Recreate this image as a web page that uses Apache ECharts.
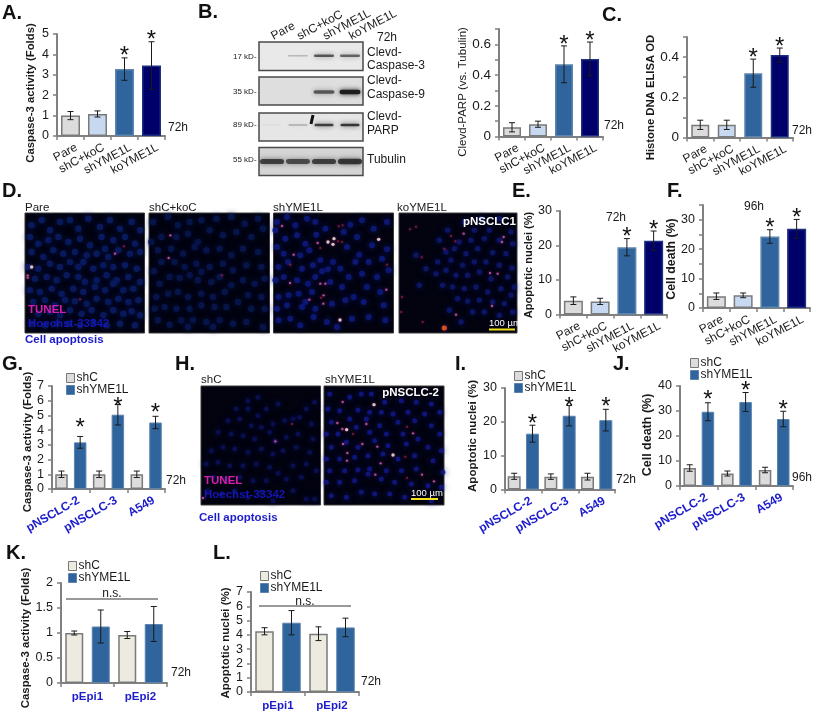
<!DOCTYPE html>
<html><head><meta charset="utf-8">
<style>html,body{margin:0;padding:0;background:#fff}#c{width:814px;height:716px}</style>
<script src="https://cdn.jsdelivr.net/npm/echarts@6/dist/echarts.min.js"></script>
</head><body><div id="c"></div>
<script>
// ---------- categories ----------
const conditions = ['Pare','shC+koC','shYME1L','koYME1L'];
const lines = ['pNSCLC-2','pNSCLC-3','A549'];
const epi = ['pEpi1','pEpi2'];
// ---------- single-series panels: value, error, significance ----------
const aVal=[1.0,1.08,3.28,3.45], aErr=[0.2,0.15,0.55,1.17], aSig=[0,0,1,1];
const parpVal=[0.06,0.08,0.47,0.505], parpErr=[0.03,0.02,0.12,0.11], parpSig=[0,0,1,1];
const cVal=[0.063,0.063,0.32,0.41], cErr=[0.023,0.023,0.07,0.035], cSig=[0,0,1,1];
const eVal=[4.0,3.8,19.5,21.4], eErr=[1.1,0.9,2.5,2.8], eSig=[0,0,1,1];
const fVal=[4.0,4.3,24.3,26.9], fErr=[1.1,0.8,2.3,3.2], fSig=[0,0,1,1];
// ---------- grouped panels ----------
const gShC=[1,1,1], gShCErr=[0.22,0.22,0.22], gShY=[3.17,5.05,4.52], gShYErr=[0.4,0.7,0.42];
const iShC=[3.9,3.8,3.8], iShCErr=[0.9,0.8,1.0], iShY=[16.5,21.8,20.5], iShYErr=[2.5,3.0,3.2];
const jShC=[7.2,5.0,6.4], jShCErr=[1.3,1.0,1.1], jShY=[29.7,33.6,26.8], jShYErr=[3.6,3.8,3.1];
const kShC=[1.0,0.96], kShCErr=[0.04,0.07], kShY=[1.13,1.18], kShYErr=[0.33,0.35];
const lShC=[4.25,4.08], lShCErr=[0.25,0.48], lShY=[4.85,4.52], lShYErr=[0.85,0.65];
// ---------- western blot band intensity per lane ----------
const blotCasp3=[0,0.22,0.66,0.6], blotCasp9=[0,0,0.62,0.95], blotParp=[0.08,0.28,0.78,0.82], blotTub=[0.72,0.66,0.72,0.78];
// ---------- micrograph nuclei and TUNEL spots: [x,y] and [x,y,kind] ----------
const nucPare=[[20,40],[50,25],[75,55],[105,30],[135,25],[160,50],[190,20],[225,45],[255,25],[285,50],[320,30],[345,55],[15,75],[40,95],[70,85],[100,75],[130,90],[165,80],[195,100],[230,75],[240,110],[265,85],[300,75],[330,95],[20,120],[55,135],[85,115],[115,125],[150,120],[185,130],[215,125],[250,135],[280,115],[315,125],[345,120],[10,165],[40,170],[75,155],[105,165],[135,150],[160,165],[175,150],[205,170],[235,160],[265,165],[300,160],[335,170],[30,200],[65,195],[95,205],[125,190],[160,195],[180,210],[215,205],[245,190],[275,205],[310,195],[345,210],[15,235],[45,240],[80,230],[110,245],[145,230],[175,240],[210,225],[240,235],[265,215],[295,235],[325,230],[25,270],[60,265],[90,280],[120,265],[150,268],[185,275],[215,260],[250,270],[280,260],[310,270],[340,265],[40,305],[75,300],[105,310],[135,295],[170,305],[200,295],[235,310],[265,295],[295,305],[320,298],[345,310],[20,335],[60,340],[95,335],[130,335],[165,340],[205,330],[245,340],[285,335],[330,340]];
const hitPare=[[20,165,0],[8,190,1],[8,197,1],[297,103,2],[270,125,1],[165,262,2]];
const nucKoC=[[15,30],[60,15],[90,40],[125,30],[160,25],[205,20],[250,15],[290,35],[330,20],[10,90],[40,75],[85,75],[120,65],[150,90],[185,55],[225,70],[265,60],[310,75],[345,50],[30,115],[70,110],[105,125],[140,105],[175,115],[215,110],[250,130],[285,110],[330,120],[18,178],[40,150],[80,150],[110,165],[145,155],[160,180],[185,165],[225,155],[255,175],[295,160],[340,165],[35,215],[65,195],[95,198],[125,190],[150,205],[190,210],[215,195],[250,220],[285,205],[320,215],[350,200],[25,255],[60,245],[90,240],[120,255],[160,245],[195,255],[230,240],[300,250],[340,255],[20,290],[50,285],[85,290],[125,290],[160,280],[200,285],[235,285],[270,270],[310,290],[350,290],[30,325],[65,338],[100,325],[135,325],[175,330],[215,325],[255,335],[295,330],[345,345],[120,345],[195,345]];
const hitKoC=[[67,70,1],[62,138,1],[222,190,2]];
const nucShY=[[15,30],[45,15],[70,40],[105,20],[130,30],[160,50],[235,38],[270,25],[305,50],[345,30],[10,55],[40,80],[75,70],[100,95],[133,68],[215,60],[255,75],[345,112],[15,105],[35,125],[85,130],[112,115],[145,145],[183,150],[225,105],[262,128],[300,100],[330,140],[20,165],[48,150],[90,170],[123,160],[168,172],[150,178],[205,170],[250,150],[290,150],[350,175],[10,205],[35,195],[75,205],[108,215],[130,195],[175,210],[230,195],[270,185],[315,195],[20,255],[50,250],[80,245],[120,240],[210,225],[245,255],[285,225],[325,240],[15,290],[45,280],[90,285],[130,290],[180,275],[220,265],[275,270],[335,280],[20,325],[55,320],[85,340],[125,315],[165,330],[240,320],[290,315],[340,325],[100,270],[195,345]];
const hitShY=[[168,90,0],[186,80,0],[183,97,0],[320,82,0],[204,324,0],[54,213,1],[30,42,1],[65,128,1],[137,93,1],[145,108,2],[200,43,2],[212,40,2],[198,88,2],[210,90,2],[155,250,1],[147,257,2],[112,263,1],[154,275,1],[343,233,1],[55,158,2],[345,158,2],[145,215,1],[160,215,1]];
const nucKoY=[[205,30],[255,20],[310,20],[155,55],[235,55],[280,55],[345,60],[130,85],[190,90],[225,85],[265,80],[310,85],[350,95],[150,120],[175,110],[210,125],[245,110],[290,122],[330,125],[125,150],[165,145],[200,160],[235,150],[270,150],[310,160],[348,168],[120,185],[150,175],[180,190],[215,190],[250,180],[285,200],[335,195],[355,225],[140,220],[170,225],[205,230],[240,225],[275,240],[315,230],[345,250],[185,260],[215,268],[250,265],[290,270],[325,275],[160,295],[230,300],[265,300],[310,310],[350,300],[195,330],[60,130],[90,170],[70,220]];
const hitKoY=[[60,44,2],[42,52,2],[77,136,2],[203,65,1],[165,72,2],[178,88,2],[145,110,2],[323,75,1],[318,90,1],[282,183,1],[305,185,1],[18,255,2],[15,300,2],[180,308,1],[288,282,1],[80,330,2],[145,348,3]];
const nucH1=[[150,50],[180,40],[115,75],[150,75],[180,95],[205,75],[240,60],[285,105],[305,100],[325,75],[350,55],[90,110],[125,105],[160,125],[190,130],[225,120],[260,110],[340,120],[60,145],[100,150],[135,155],[170,165],[215,145],[232,172],[265,160],[300,150],[345,165],[40,200],[75,190],[110,195],[150,205],[190,195],[225,210],[255,200],[295,190],[335,205],[25,240],[60,235],[95,245],[135,245],[175,240],[215,250],[240,268],[285,245],[325,240],[355,260],[45,280],[85,285],[125,280],[165,290],[205,290],[265,285],[310,280],[30,320],[70,330],[110,320],[150,340],[190,325],[225,350],[285,320],[325,345],[350,345]];
const hitH1=[[232,172,1],[282,120,2],[15,342,1]];
const nucH2=[[395,30],[455,40],[490,30],[520,30],[560,55],[610,50],[655,55],[700,60],[390,75],[425,80],[480,78],[515,85],[550,85],[585,90],[630,85],[680,90],[725,85],[400,115],[455,105],[505,105],[545,125],[600,115],[650,110],[700,125],[385,150],[420,150],[475,130],[515,145],[565,150],[615,150],[660,165],[725,150],[400,190],[445,175],[480,190],[530,170],[570,185],[625,180],[690,190],[730,200],[385,225],[425,225],[470,220],[510,215],[555,210],[600,225],[650,215],[705,230],[395,260],[440,260],[480,258],[515,255],[565,260],[610,260],[655,255],[735,265],[385,295],[425,295],[470,290],[510,270],[550,285],[590,295],[640,300],[690,305],[730,310],[400,335],[445,340],[490,325],[530,330],[575,330],[620,340],[700,350]];
const hitH2=[[434,54,1],[528,62,0],[585,213,0],[532,272,1],[418,117,1],[433,135,1],[446,137,0],[505,120,1],[645,148,1],[538,188,1],[435,180,1],[493,180,1],[465,150,2],[448,207,1],[447,230,1],[548,238,1],[627,128,2],[622,218,2],[672,272,1],[708,292,1],[627,282,2]];

// ---------- styles ----------
const FONT='"Liberation Sans",Arial,sans-serif', INK='#1a1a1a', GREY='#808080', BLUE='#1c1ccc';
const cLight='#dcdcdc', cPale='#c6d9f1', cMid='#2f649c', cDark='#00006b', cCream='#edebe0';
const condColors=[cLight,cPale,cMid,cDark], condBorders=['#7a7a7a','#7a7a7a','#5d84ad','#1f2f80'];
const grid=[],xAxis=[],yAxis=[],series=[],legend=[],graphic=[];

function text(s,x,y,o){graphic.push({type:'text',z:100,x,y,rotation:(o&&o.rot)||0,style:Object.assign({text:s,fill:INK,font:'12px '+FONT,textAlign:'left',textVerticalAlign:'middle'},o&&o.style)})}
function errSeries(gi,vals,errs,sigs,offset,capW,lift){
  return {type:'custom',xAxisIndex:gi,yAxisIndex:gi,z:5,clip:false,silent:true,
    data:vals.map((v,i)=>[i,v,errs[i],sigs?sigs[i]:0,lift?lift[i]:1]),
    encode:{x:0,y:1},
    renderItem(p,api){
      const i=api.value(0),v=api.value(1),e=api.value(2),sig=api.value(3),up=api.value(4);
      const top=api.coord([i,v+e]),bot=api.coord([i,v-e]);
      const x=top[0]+offset,s={stroke:'#1a1a1a',lineWidth:1};
      const ch=[
        {type:'line',shape:{x1:x,y1:top[1],x2:x,y2:bot[1]},style:s},
        {type:'line',shape:{x1:x-capW,y1:top[1],x2:x+capW,y2:top[1]},style:s},
        {type:'line',shape:{x1:x-capW,y1:bot[1],x2:x+capW,y2:bot[1]},style:s}];
      if(sig)ch.push({type:'text',style:{text:'*',x,y:top[1]-up,textAlign:'center',textVerticalAlign:'middle',font:'24px '+FONT,fill:'#111'}});
      return {type:'group',children:ch};
    }};
}
function addAxes(L,cats,o){
  const gi=grid.length;
  grid.push({left:L.left,width:L.right-L.left,top:L.top,height:L.bottom-L.top});
  const line={show:true,lineStyle:{color:GREY,width:2}}, tick={show:true,length:4,lineStyle:{color:GREY,width:1.5}};
  xAxis.push({gridIndex:gi,type:'category',data:cats,axisLine:line,axisTick:tick,
    axisLabel:Object.assign({interval:0,rotate:28,fontSize:12,color:INK,fontFamily:FONT,margin:14,padding:[0,-7,0,0]},o.xLabel||{})});
  const d=L.nameY-(L.top+L.bottom)/2;
  yAxis.push({gridIndex:gi,type:'value',min:0,max:o.max,interval:o.interval,splitLine:{show:false},axisLine:line,axisTick:tick,
    axisLabel:{fontSize:o.tickSize||12.5,color:INK,fontFamily:FONT,margin:8,formatter:o.fmt},
    name:o.name,nameLocation:'middle',nameGap:L.left-L.nameX-o.nameSize/2,
    nameTextStyle:{fontSize:o.nameSize,fontWeight:o.nameWeight||'bold',color:INK,fontFamily:FONT,
      padding:d>0?[0,2*d,0,0]:[0,0,0,-2*d]}});
  return gi;
}
function single(L,o){
  const gi=addAxes(L,conditions,o);
  series.push({type:'bar',xAxisIndex:gi,yAxisIndex:gi,barWidth:L.barW,silent:true,
    data:o.val.map((v,i)=>({value:v,itemStyle:{color:condColors[i],borderColor:condBorders[i],borderWidth:1.5}}))});
  series.push(errSeries(gi,o.val,o.err,o.sig,0,3));
}
function grouped(L,cats,o){
  const gi=addAxes(L,cats,o);
  const gap=((L.sep-L.barW)/L.barW*100)+'%';
  series.push({type:'bar',name:'shC',xAxisIndex:gi,yAxisIndex:gi,barWidth:L.barW,barGap:gap,silent:true,data:o.a,
    itemStyle:{color:o.colA,borderColor:'#7a7a7a',borderWidth:1.5}});
  series.push({type:'bar',name:'shYME1L',xAxisIndex:gi,yAxisIndex:gi,barWidth:L.barW,barGap:gap,silent:true,data:o.b,
    itemStyle:{color:cMid,borderColor:'#5d84ad',borderWidth:1}});
  series.push(errSeries(gi,o.a,o.aErr,null,-L.sep/2,3));
  series.push(errSeries(gi,o.b,o.bErr,o.bSig,L.sep/2,3,o.lift));
  legend.push({left:L.legX,top:L.legY,orient:'vertical',padding:0,itemGap:0,itemWidth:8,itemHeight:9,selectedMode:false,
    textStyle:{fontSize:12,color:INK,fontFamily:FONT,padding:[0,0,0,-3]},
    data:[{name:'shC',icon:'rect',itemStyle:{color:o.colA,borderColor:'#777',borderWidth:1}},
          {name:'shYME1L',icon:'rect',itemStyle:{color:cMid,borderColor:'#5d84ad',borderWidth:1}}]});
}
function blot(L,vals,o){
  const gi=grid.length;
  grid.push({show:true,left:259,width:104,top:L.top,height:L.h,backgroundColor:o.bg,borderColor:'#4a4a4a',borderWidth:1.5});
  xAxis.push({gridIndex:gi,type:'category',data:conditions,position:'top',axisLine:{show:false},axisTick:{show:false},
    axisLabel:{show:!!o.labels,interval:0,rotate:28,fontSize:12,color:INK,fontFamily:FONT,margin:5}});
  yAxis.push({gridIndex:gi,type:'value',min:0,max:1,show:false});
  series.push({type:'custom',xAxisIndex:gi,yAxisIndex:gi,silent:true,clip:true,
    data:vals.map((v,i)=>[i,v]),encode:{x:0,y:1},
    renderItem(p,api){
      const a=api.value(1); if(!a)return null;
      const c=api.coord([api.value(0),0.5]);
      const h=o.thin+o.grow*a, w=o.w;
      const col='rgba(25,25,25,'+a+')';
      return {type:'rect',shape:{x:c[0]-w/2,y:c[1]+o.dy-h/2,width:w,height:h,r:h/2},
        style:{fill:col,shadowBlur:5,shadowColor:col}};
    }});
}
function micro(L,crop,nuc,hits,nucColor,nucSize){
  const gi=grid.length;
  grid.push({show:true,left:L.l,width:L.r-L.l,top:L.t,height:L.b-L.t,backgroundColor:'#02030f',borderColor:'#3a3a3a',borderWidth:1});
  xAxis.push({gridIndex:gi,type:'value',show:false,min:(L.l-crop.x)*3,max:(L.r-crop.x)*3});
  yAxis.push({gridIndex:gi,type:'value',show:false,inverse:true,min:(L.t-crop.y)*3,max:(L.b-crop.y)*3});
  series.push({type:'scatter',xAxisIndex:gi,yAxisIndex:gi,silent:true,clip:true,data:nuc,symbolSize:nucSize,
    itemStyle:{color:nucColor,opacity:0.85,shadowBlur:6,shadowColor:nucColor}});
  const kinds=[{c:'#fff6e0',s:3.4},{c:'#d060b0',s:2.4},{c:'#a82030',s:2},{c:'#ff5a10',s:5}];
  series.push({type:'scatter',xAxisIndex:gi,yAxisIndex:gi,silent:true,clip:true,z:4,data:hits,
    symbolSize:(v)=>kinds[v[2]].s,
    itemStyle:{color:(p)=>kinds[p.value[2]].c,shadowBlur:3,shadowColor:'#b0309c'}});
}

// ---------- layout ----------
const fmtEven=v=>Math.round(v*10)%2?'':(v===0?'0':String(+v.toFixed(1)));
single({left:57,right:165,top:34,bottom:136,barW:19,nameX:31,nameY:93},
  {val:aVal,err:aErr,sig:aSig,max:5,interval:1,name:'Caspase-3 activity (Folds)',nameSize:11.3});
single({left:499,right:603,top:29,bottom:136.5,barW:18,nameX:467,nameY:92},
  {val:parpVal,err:parpErr,sig:parpSig,max:0.7,interval:0.1,tickSize:13.5,fmt:fmtEven,name:'Clevd-PARP (vs. Tubulin)',nameSize:11.5,nameWeight:'normal'});
single({left:687,right:793,top:37,bottom:137.5,barW:18,nameX:657,nameY:97.5},
  {val:cVal,err:cErr,sig:cSig,max:0.5,interval:0.1,tickSize:13.5,fmt:fmtEven,name:'Histone DNA ELISA OD',nameSize:11.3});
single({left:560,right:667,top:211,bottom:314.5,barW:19,nameX:531,nameY:265},
  {val:eVal,err:eErr,sig:eSig,max:30,interval:10,name:'Apoptotic nuclei (%)',nameSize:11});
single({left:703,right:810,top:205,bottom:308,barW:19,nameX:673,nameY:259},
  {val:fVal,err:fErr,sig:fSig,max:35,interval:5,fmt:v=>v%10?'':String(v),name:'Cell death (%)',nameSize:12.3});

const blueBold={rotate:30,fontWeight:'bold',color:BLUE,fontSize:12,margin:15,padding:[0,-9,0,0]};
const noRot={rotate:0,fontWeight:'bold',color:BLUE,fontSize:11.5,margin:8,padding:0};
grouped({left:52,right:165,top:386,bottom:489,barW:12.5,sep:18.7,nameX:30,nameY:442,legX:66,legY:372},lines,
  {a:gShC,aErr:gShCErr,b:gShY,bErr:gShYErr,bSig:[1,1,1],lift:[8,-3,3],colA:cLight,max:7,interval:1,name:'Caspase-3 activity (Folds)',nameSize:11.4,xLabel:blueBold});
grouped({left:505,right:615,top:388,bottom:489.5,barW:13,sep:18.3,nameX:477,nameY:436,legX:514,legY:370},lines,
  {a:iShC,aErr:iShCErr,b:iShY,bErr:iShYErr,bSig:[1,1,1],lift:[1,-2,2],colA:cLight,max:30,interval:10,name:'Apoptotic nuclei (%)',nameSize:11.6,xLabel:blueBold});
grouped({left:680,right:793,top:386,bottom:486,barW:12.5,sep:18.2,nameX:653,nameY:435,legX:690,legY:357},lines,
  {a:jShC,aErr:jShCErr,b:jShY,bErr:jShYErr,bSig:[1,1,1],lift:[2,1,1],colA:cLight,max:40,interval:10,name:'Cell death (%)',nameSize:12.5,xLabel:blueBold});
grouped({left:61,right:167,top:583,bottom:683,barW:18,sep:26.5,nameX:30,nameY:638,legX:68,legY:560},epi,
  {a:kShC,aErr:kShCErr,b:kShY,bErr:kShYErr,bSig:[0,0],colA:cCream,max:2,interval:0.5,name:'Caspase-3 activity (Folds)',nameSize:11.4,xLabel:noRot});
grouped({left:251,right:359,top:592,bottom:692,barW:18.5,sep:27,nameX:227,nameY:643,legX:260,legY:570},epi,
  {a:lShC,aErr:lShCErr,b:lShY,bErr:lShYErr,bSig:[0,0],colA:cCream,max:7,interval:1,name:'Apoptotic nuclei (%)',nameSize:11.5,xLabel:noRot});

blot({top:42,h:28.5},blotCasp3,{bg:'#e9e9e9',labels:true,thin:1,grow:2.5,w:20,dy:-0.5});
blot({top:77,h:28},blotCasp9,{bg:'#dedede',thin:1.5,grow:3,w:21,dy:1});
blot({top:113,h:28},blotParp,{bg:'#e6e6e6',thin:1,grow:2,w:19,dy:-2});
blot({top:147.5,h:28},blotTub,{bg:'#d4d4d4',thin:3,grow:3,w:24,dy:0});

const cropP={x:25,y:212},cropK={x:148,y:212},cropS={x:272,y:212},cropO={x:396,y:212},cropH={x:198,y:384};
micro({l:25,r:144.5,t:213,b:333},cropP,nucPare,hitPare,'#0a1c66',6.5);
micro({l:149,r:269.5,t:213,b:333},cropK,nucKoC,hitKoC,'#081650',6.5);
micro({l:273.5,r:393.5,t:213,b:333},cropS,nucShY,hitShY,'#0e1a80',6);
micro({l:399,r:517,t:213,b:333},cropO,nucKoY,hitKoY,'#0e1770',5.5);
micro({l:201,r:320.5,t:386,b:505},cropH,nucH1,hitH1,'#0a1158',5);
micro({l:324,r:444,t:386,b:505},cropH,nucH2,hitH2,'#10188a',5);

// ---------- annotations ----------
const letters=[['A.',2,13],['B.',198,12],['C.',602,15],['D.',2,191],['E.',512,191],['F.',667,191],['G.',2,364],['H.',175,364],['I.',455,364],['J.',613,364],['K.',6,553],['L.',213,553]];
letters.forEach(a=>text(a[0],a[1],a[2],{style:{font:'bold 20px '+FONT,fill:'#111'}}));
[['72h',168,128],['72h',604,126],['72h',792,131],['72h',606,218],['96h',744,207],['72h',166,481],['72h',616,480],['96h',792,478],['72h',171,673],['72h',361,682],['72h',377,38]]
  .forEach(a=>text(a[0],a[1],a[2]));
[['17 kD-',57],['35 kD-',91.5],['89 kD-',125],['55 kD-',160]].forEach(a=>text(a[0],233,a[1],{style:{font:'8px '+FONT}}));
[['Clevd-',53],['Caspase-3',66],['Clevd-',81],['Caspase-9',95],['Clevd-',117],['PARP',131],['Tubulin',160]].forEach(a=>text(a[0],367,a[1]));
[['Pare',25],['shC+koC',149],['shYME1L',273],['koYME1L',397]].forEach(a=>text(a[0],a[1],208,{style:{font:'11.5px '+FONT}}));
[['shC',201],['shYME1L',325]].forEach(a=>text(a[0],a[1],380,{style:{font:'11.5px '+FONT}}));
const whiteBold={font:'bold 11.5px '+FONT,fill:'#fff',textAlign:'right'};
text('pNSCLC1',516,222,{style:whiteBold}); text('pNSCLC-2',439,393,{style:whiteBold});
[[28,310,324],[204,481,495]].forEach(a=>{
  text('TUNEL',a[0],a[1],{style:{font:'bold 11.5px '+FONT,fill:'#d81cb0'}});
  text('Hoechst-33342',a[0],a[2],{style:{font:'bold 11.5px '+FONT,fill:'#1616b8'}});
});
text('Cell apoptosis',25,340,{style:{font:'bold 11.5px '+FONT,fill:BLUE}});
text('Cell apoptosis',199,518,{style:{font:'bold 11.5px '+FONT,fill:BLUE}});
text('100 µm',489,323,{style:{font:'9.5px '+FONT,fill:'#fff'}});
text('100 µm',411,493,{style:{font:'9.5px '+FONT,fill:'#fff'}});
[[489,328.5,26],[411,498,27]].forEach(a=>graphic.push({type:'rect',z:100,shape:{x:a[0],y:a[1],width:a[2],height:2},style:{fill:'#f2e21c'}}));
graphic.push({type:'line',z:100,shape:{x1:313,y1:115,x2:311,y2:124},style:{stroke:'#111',lineWidth:3}});
[[66,158,599],[259,351,606]].forEach(a=>graphic.push({type:'line',z:100,shape:{x1:a[0],y1:a[2],x2:a[1],y2:a[2]},style:{stroke:'#777',lineWidth:1.5}}));
text('n.s.',112,594,{style:{textAlign:'center'}}); text('n.s.',305,602,{style:{textAlign:'center'}});

const chart=echarts.init(document.getElementById('c'),null,{renderer:'canvas'});
chart.setOption({animation:false,backgroundColor:'#fff',textStyle:{fontFamily:FONT},grid,xAxis,yAxis,series,legend,graphic:{elements:graphic}});
</script></body></html>
